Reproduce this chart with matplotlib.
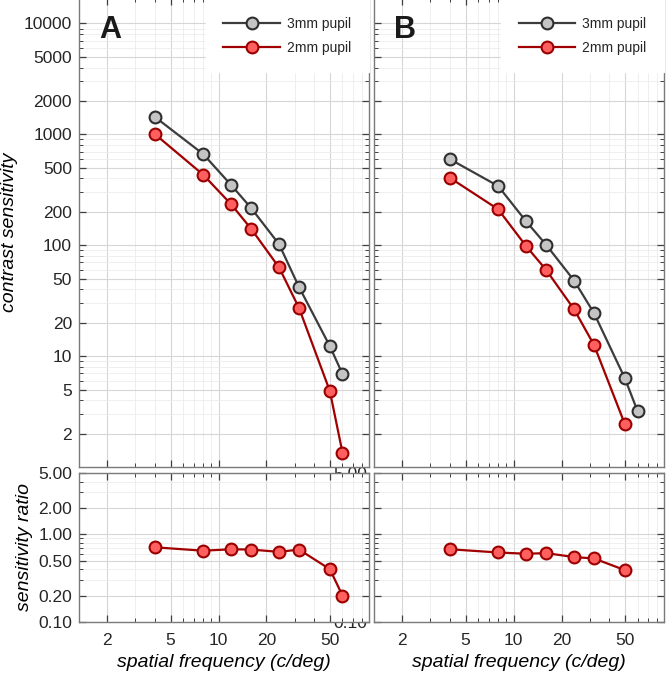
import matplotlib
matplotlib.use('Agg')
import matplotlib.pyplot as plt
from matplotlib.ticker import FixedLocator, FixedFormatter, LogLocator, NullFormatter

plt.rcParams['font.family'] = ['Liberation Sans', 'DejaVu Sans']

# spatial frequencies (c/deg)
freq = [4, 8, 12, 16, 24, 32, 50, 60]

# panel A
a_3mm = [1430, 665, 349, 217, 102, 42, 12.3, 6.9]
a_2mm = [1000, 433, 234, 141, 63, 27.2, 4.84, 1.35]
a_ratio = [0.71, 0.65, 0.675, 0.67, 0.63, 0.67, 0.40, 0.20]

# panel B
b_3mm = [595, 342, 164, 101, 48, 24.4, 6.3, 3.2]
b_2mm = [404, 211, 98, 60, 26.4, 12.6, 2.43]
b_ratio = [0.675, 0.62, 0.60, 0.61, 0.55, 0.53, 0.39]

cs_ticks = [2, 5, 10, 20, 50, 100, 200, 500, 1000, 2000, 5000, 10000]
ratio_ticks = [0.1, 0.2, 0.5, 1.0, 2.0, 5.0]
x_ticks = [2, 5, 10, 20, 50]

GRAY = dict(color='#3c3c3c', lw=1.6, marker='o', ms=8.5,
            mfc='#c4c4c4', mec='#2e2e2e', mew=1.5)
RED = dict(color='#a00000', lw=1.6, marker='o', ms=8.5,
           mfc='#ff5f5f', mec='#9a0000', mew=1.5)


def style_axes(ax, yticks, ylabels, show_x):
    ax.set_xscale('log')
    ax.set_yscale('log')
    ax.set_xlim(1.33, 88)
    ax.xaxis.set_major_locator(FixedLocator(x_ticks))
    ax.xaxis.set_major_formatter(FixedFormatter([str(t) for t in x_ticks]))
    ax.xaxis.set_minor_locator(LogLocator(base=10, subs=range(1, 10), numticks=20))
    ax.xaxis.set_minor_formatter(NullFormatter())
    ax.yaxis.set_major_locator(FixedLocator(yticks))
    ax.yaxis.set_major_formatter(FixedFormatter(ylabels))
    ax.yaxis.set_minor_locator(LogLocator(base=10, subs=range(1, 10), numticks=20))
    ax.yaxis.set_minor_formatter(NullFormatter())
    ax.tick_params(which='both', direction='in', top=True, right=True,
                   color='#404040', labelcolor='#262626', labelsize=12.5)
    ax.tick_params(which='major', length=5, width=0.9)
    ax.tick_params(which='minor', length=3, width=0.7)
    ax.tick_params(axis='x', pad=8)
    ax.tick_params(axis='y', pad=5)
    if not show_x:
        ax.tick_params(axis='x', labelbottom=False)
    ax.grid(True, which='major', color='#d6d6d6', lw=0.8)
    ax.grid(True, which='minor', color='#ececec', lw=0.6)
    ax.set_axisbelow(True)
    for s in ax.spines.values():
        s.set_color('#7a7a7a')
        s.set_linewidth(1.0)


fig = plt.figure(figsize=(6.66, 6.74), dpi=100)

# B is created first so that A's axes cover B's left tick labels
panels = [('B', b_3mm, b_2mm, b_ratio, 0.5616), ('A', a_3mm, a_2mm, a_ratio, 0.1186)]
for letter, y3, y2, ratio, left in panels:
    width = 0.4354
    ax_top = fig.add_axes([left, 0.3071, width, 0.696])
    ax_bot = fig.add_axes([left, 0.0772, width, 0.221])

    ax_top.plot(freq[:len(y3)], y3, label='3mm pupil', **GRAY)
    ax_top.plot(freq[:len(y2)], y2, label='2mm pupil', **RED)
    style_axes(ax_top, cs_ticks, [str(t) for t in cs_ticks], False)
    ax_top.set_ylim(1, 17000)
    ax_top.set_ylabel('contrast sensitivity', fontsize=14, style='italic', labelpad=4)
    ax_top.text(0.07, 0.915, letter, transform=ax_top.transAxes, fontsize=22,
                fontweight='bold', color='#1a1a1a', va='baseline', ha='left')
    leg = ax_top.legend(loc='upper right', bbox_to_anchor=(1.0, 0.997), fontsize=10,
                        handlelength=4.1, handletextpad=0.5, labelspacing=0.75,
                        borderpad=1.25, borderaxespad=0, fancybox=False,
                        framealpha=1, edgecolor='white', facecolor='white')
    for t in leg.get_texts():
        t.set_color('#262626')

    ax_bot.plot(freq[:len(ratio)], ratio, **RED)
    style_axes(ax_bot, ratio_ticks, ['%.2f' % t for t in ratio_ticks], True)
    ax_bot.set_ylim(0.1, 5)
    ax_bot.set_ylabel('sensitivity ratio', fontsize=14, style='italic', labelpad=4)
    ax_bot.set_xlabel('spatial frequency (c/deg)', fontsize=14, style='italic', labelpad=4)

fig.savefig('out.png', dpi=100, facecolor='white')
